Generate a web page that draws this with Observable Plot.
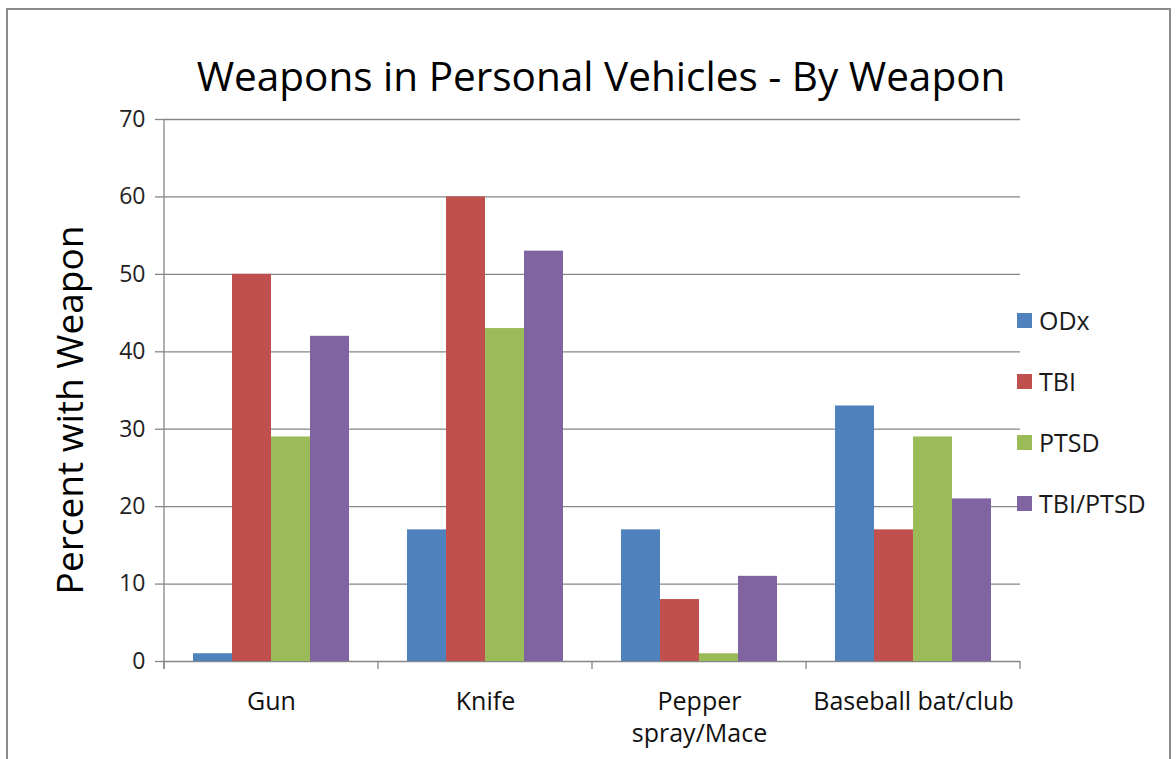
<!DOCTYPE html>
<html>
<head>
<meta charset="utf-8">
<script src="https://cdn.jsdelivr.net/npm/d3@7"></script>
<script src="https://cdn.jsdelivr.net/npm/@observablehq/plot@0.6"></script>
<style>
  body { margin: 0; background: #fff; font-family: "Open Sans", sans-serif; }
  #wrap { position: relative; width: 1176px; height: 759px; overflow: hidden; background: #fff; }
  #frame { position: absolute; left: 6px; top: 8px; width: 1165px; height: 800px; border: 2px solid #8c8c8c; box-sizing: border-box; }
  #chart { position: absolute; left: 0; top: 0; }
  #title { position: absolute; left: 0; width: 1202px; top: 56px; text-align: center; font-size: 40.5px; line-height: 1; color: #000; white-space: nowrap; }
  #ylabel { position: absolute; left: 68px; top: 410px; transform: translate(-50%, -50%) rotate(-90deg); font-size: 37px; line-height: 1; color: #000; white-space: nowrap; }
  #legend { position: absolute; left: 1017px; top: 0; }
  .item { position: absolute; left: 0; display: flex; align-items: center; white-space: nowrap; font-size: 25px; line-height: 1; color: #1a1a1a; }
  .sw { width: 15px; height: 15px; margin-right: 7px; }
</style>
</head>
<body>
<div id="wrap">
  <div id="frame"></div>
  <div id="chart"></div>
  <div id="title">Weapons in Personal Vehicles - By Weapon</div>
  <div id="ylabel">Percent with Weapon</div>
  <div id="legend"></div>
</div>
<script>
// ---- data ----
const categories = ["Gun", "Knife", "Pepper spray/Mace", "Baseball bat/club"];
const categoryLabels = ["Gun", "Knife", "Pepper\nspray/Mace", "Baseball bat/club"];
const series = ["ODx", "TBI", "PTSD", "TBI/PTSD"];
const odx = [1, 17, 17, 33];
const tbi = [50, 60, 8, 17];
const ptsd = [29, 43, 1, 29];
const tbiPtsd = [42, 53, 11, 21];
const colors = ["#4F81BD", "#C0504D", "#9BBB59", "#8064A2"];
const yTicks = [0, 10, 20, 30, 40, 50, 60, 70];

const seriesValues = [odx, tbi, ptsd, tbiPtsd];
const data = categories.flatMap((c, i) =>
  series.map((s, j) => ({ category: c, series: s, value: seriesValues[j][i] }))
);

const gridColor = "#868686";

const chart = Plot.plot({
  width: 1176,
  height: 759,
  marginTop: 119,
  marginBottom: 98,
  marginLeft: 162,
  marginRight: 155,
  style: { fontFamily: "Open Sans", background: "transparent", overflow: "visible" },
  fx: { domain: categories, padding: 0, label: null, axis: null },
  x: { domain: series, paddingInner: 0, paddingOuter: 0.72, axis: null },
  y: { domain: [0, 70], axis: null },
  color: { domain: series, range: colors },
  marks: [
    Plot.gridY(yTicks, { stroke: gridColor, strokeOpacity: 1, strokeWidth: 1.3 }),
    Plot.barY(data, { fx: "category", x: "series", y: "value", fill: "series" }),
    Plot.axisY(yTicks, { tickSize: 9, tickPadding: 10, fontSize: 23, label: null, stroke: gridColor, fill: "#222", strokeWidth: 1.3 }),
    Plot.axisFx({
      anchor: "bottom", tickSize: 0, tickPadding: 25, fontSize: 25, label: null,
      lineHeight: 1.3, fill: "#111",
      tickFormat: d => categoryLabels[categories.indexOf(d)]
    })
  ]
});
document.getElementById("chart").appendChild(chart);

// axis line and category separator ticks using the plot's own scales
const fx = chart.scale("fx");
const y = chart.scale("y");
const svg = d3.select(chart);
const g = svg.append("g").attr("stroke", gridColor).attr("stroke-width", 1.3);
const x0 = fx.apply(categories[0]);
g.append("line").attr("x1", x0).attr("x2", x0).attr("y1", y.apply(70)).attr("y2", y.apply(0) + 8);
categories.forEach((c, i) => {
  const xs = [fx.apply(c)];
  if (i === categories.length - 1) xs.push(fx.apply(c) + fx.bandwidth);
  xs.forEach(xx => g.append("line").attr("x1", xx).attr("x2", xx).attr("y1", y.apply(0)).attr("y2", y.apply(0) + 8));
});

// legend
const legendTops = [320, 381, 442, 503];
const legend = document.getElementById("legend");
series.forEach((s, i) => {
  const item = document.createElement("div");
  item.className = "item";
  item.style.top = (legendTops[i] - 12) + "px";
  item.style.height = "24px";
  const sw = document.createElement("div");
  sw.className = "sw";
  sw.style.background = colors[i];
  const t = document.createElement("span");
  t.textContent = s;
  item.appendChild(sw);
  item.appendChild(t);
  legend.appendChild(item);
});
</script>
</body>
</html>
